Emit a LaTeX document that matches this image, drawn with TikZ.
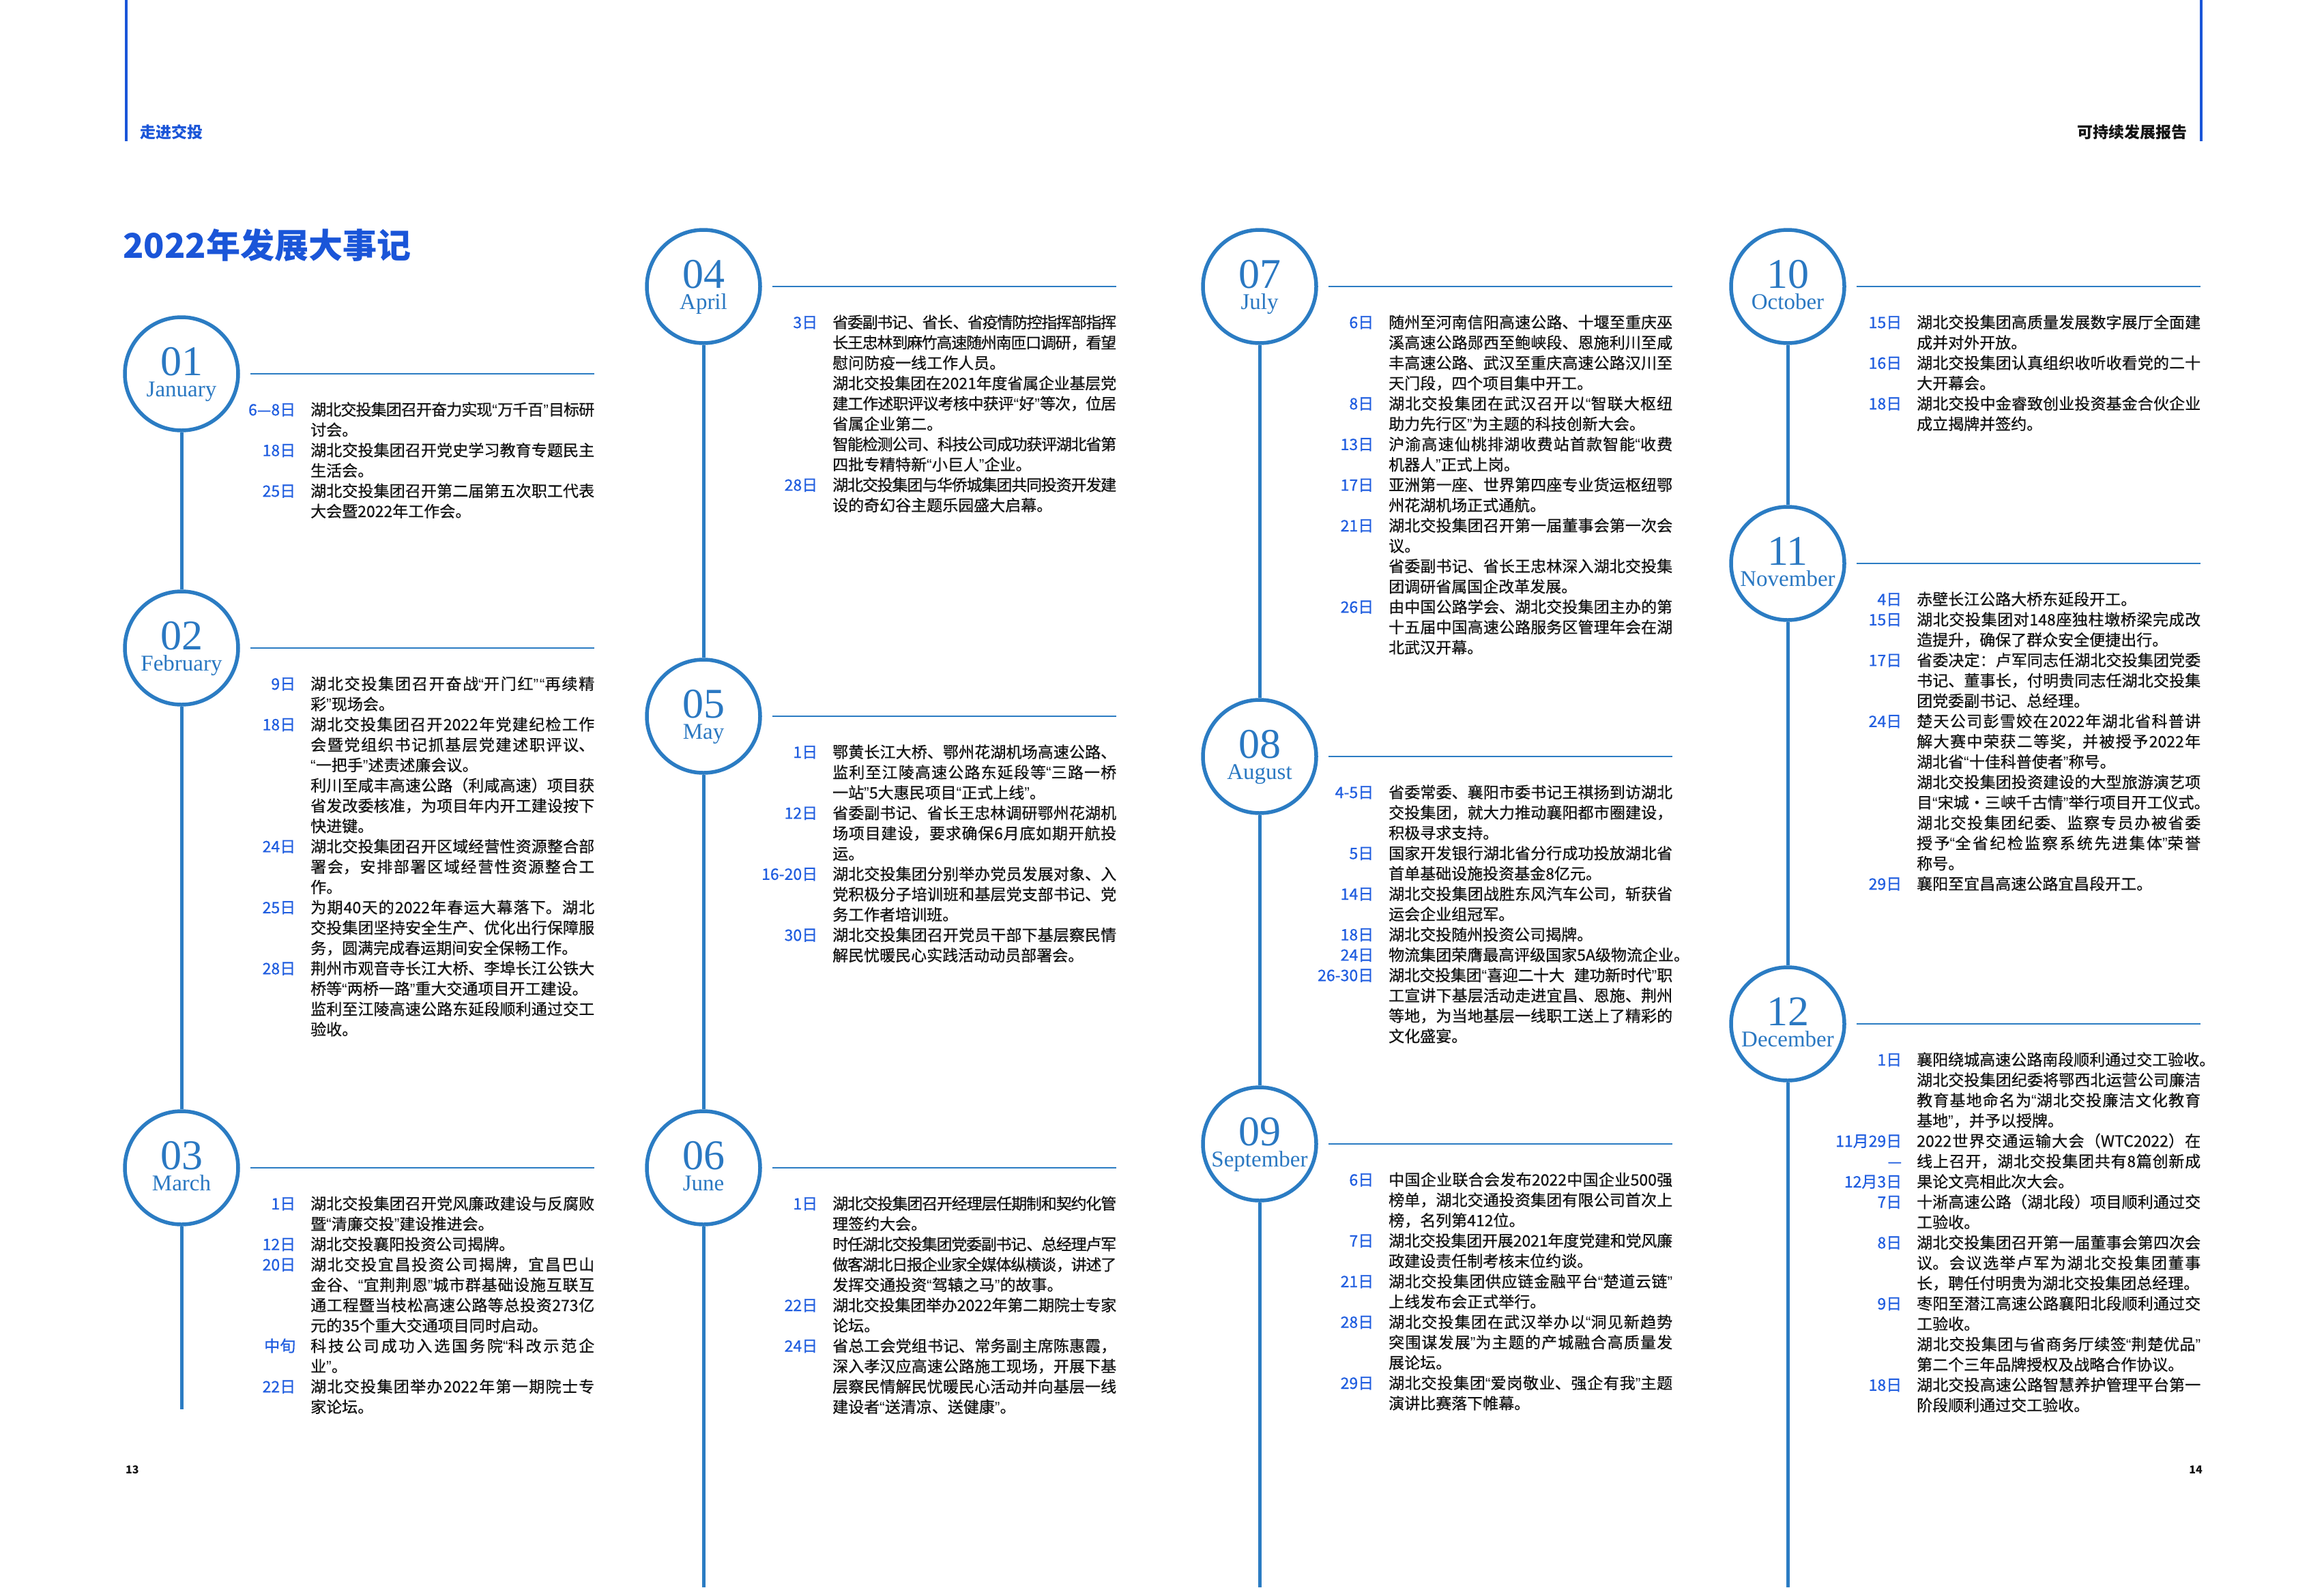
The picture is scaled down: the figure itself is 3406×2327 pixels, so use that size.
\documentclass[tikz,border=0pt]{standalone}
\usepackage{fontspec}
\setmainfont{Noto Sans CJK SC}
\newfontfamily\bodyfont{Noto Sans CJK SC}[FakeBold=0.7]
\newfontfamily\serifmonth{Liberation Serif}
\newfontfamily\qfont{Liberation Sans}
\XeTeXlinebreaklocale "zh"
\XeTeXlinebreakskip=0pt plus 4pt minus 1.6pt
\definecolor{lineblue}{HTML}{2B7CC3}
\definecolor{monthblue}{HTML}{2A78C2}
\definecolor{dateblue}{HTML}{1F5DE0}
\definecolor{titleblue}{HTML}{1A55D8}
\definecolor{textblack}{HTML}{141414}
\newlength\colw \setlength\colw{416pt}
\newcommand\J[1]{\parbox[b]{\colw}{\XeTeXlinebreakpenalty=10000\relax\parfillskip=0pt\relax #1\par}}
\newcommand\D[1]{\makebox[150pt][r]{\color{dateblue}#1}}
\newcommand\qo{{\qfont “}}
\newcommand\qc{{\qfont ”}}
\newcommand\q[1]{\qo#1\qc}
\newcommand\evt[1]{\begin{tabular}[t]{@{}l@{\hspace{22pt}}l@{}}#1\end{tabular}}
\tikzset{
 mcirc/.style={circle, draw=lineblue, line width=5.5pt, fill=white, minimum size=166pt, inner sep=0pt},
 mnum/.style={font=\serifmonth\fontsize{62}{62}\selectfont, text=monthblue, anchor=base, inner sep=0pt},
 mname/.style={font=\serifmonth\fontsize{33}{33}\selectfont, text=monthblue, anchor=base, inner sep=0pt},
 tline/.style={draw=lineblue, line width=5pt},
 hrule/.style={draw=lineblue, line width=2.2pt},
 headline/.style={draw=titleblue, line width=3.5pt},
 events/.style={anchor=base west, inner sep=0pt, font=\bodyfont\fontsize{23}{29.8}\selectfont, text=textblack},
}
\begin{document}
\begin{tikzpicture}[x=1pt,y=-1pt]
\useasboundingbox (0,0) rectangle (3406,2327);
\fill[white] (0,0) rectangle (3406,2327);

% header
\coordinate (hla) at (185,0); \coordinate (hlb) at (185,207);
\coordinate (hra) at (3226,0); \coordinate (hrb) at (3226,207);
\draw[headline] (hla) -- (hlb);
\draw[headline] (hra) -- (hrb);
\node[anchor=west, inner sep=0pt, font=\bfseries\fontsize{23}{23}\selectfont, text=titleblue] (hleft) at (205,194) {走进交投};
\node[anchor=east, inner sep=0pt, font=\bfseries\fontsize{23}{23}\selectfont, text=textblack] (hright) at (3206,194) {可持续发展报告};
\node[anchor=west, inner sep=0pt, font=\bfseries\fontsize{50}{50}\selectfont, text=titleblue] (title) at (180,359) {2022年发展大事记};
\node[anchor=west, inner sep=0pt, font=\bfseries\fontsize{16}{16}\selectfont, text=textblack] (p13) at (184,2155) {13};
\node[anchor=east, inner sep=0pt, font=\bfseries\fontsize{16}{16}\selectfont, text=textblack] (p14) at (3228,2155) {14};

% circles
\node[mcirc] (c01) at (266,548) {};
\node[mcirc] (c02) at (266,950) {};
\node[mcirc] (c03) at (266,1712) {};
\node[mcirc] (c04) at (1031,420) {};
\node[mcirc] (c05) at (1031,1050) {};
\node[mcirc] (c06) at (1031,1712) {};
\node[mcirc] (c07) at (1846,420) {};
\node[mcirc] (c08) at (1846,1109) {};
\node[mcirc] (c09) at (1846,1677) {};
\node[mcirc] (c10) at (2620,420) {};
\node[mcirc] (c11) at (2620,826) {};
\node[mcirc] (c12) at (2620,1501) {};

% vertical timelines
\coordinate (e1) at (266,2066);
\coordinate (e2) at (1031,2327);
\coordinate (e3) at (1846,2327);
\coordinate (e4) at (2620,2327);
\draw[tline] (c01) -- (c02);
\draw[tline] (c02) -- (c03);
\draw[tline] (c03) -- (e1);
\draw[tline] (c04) -- (c05);
\draw[tline] (c05) -- (c06);
\draw[tline] (c06) -- (e2);
\draw[tline] (c07) -- (c08);
\draw[tline] (c08) -- (c09);
\draw[tline] (c09) -- (e3);
\draw[tline] (c10) -- (c11);
\draw[tline] (c11) -- (c12);
\draw[tline] (c12) -- (e4);

% horizontal rules
\coordinate (r01) at (871,548);
\coordinate (r02) at (871,950);
\coordinate (r03) at (871,1712);
\coordinate (r04) at (1636,420);
\coordinate (r05) at (1636,1050);
\coordinate (r06) at (1636,1712);
\coordinate (r07) at (2451,420);
\coordinate (r08) at (2451,1109);
\coordinate (r09) at (2451,1677);
\coordinate (r10) at (3225,420);
\coordinate (r11) at (3225,826);
\coordinate (r12) at (3225,1501);
\foreach \m in {01,02,03,04,05,06,07,08,09,10,11,12}{
  \draw[hrule] ([xshift=15pt]c\m.east) -- (r\m);
}

% month labels (numeral and name)
\foreach \m/\nm/\cy in {01/January/548,02/February/950,03/March/1712}{
  \node[mnum] (n\m) at (266,\cy+2) {\m};
  \node[mname] (m\m) at (266,\cy+33) {\nm};
}
\foreach \m/\nm/\cy in {04/April/420,05/May/1050,06/June/1712}{
  \node[mnum] (n\m) at (1031,\cy+2) {\m};
  \node[mname] (m\m) at (1031,\cy+33) {\nm};
}
\foreach \m/\nm/\cy in {07/July/420,08/August/1109,09/September/1677}{
  \node[mnum] (n\m) at (1846,\cy+2) {\m};
  \node[mname] (m\m) at (1846,\cy+33) {\nm};
}
\foreach \m/\nm/\cy in {10/October/420,11/November/826,12/December/1501}{
  \node[mnum] (n\m) at (2620,\cy+2) {\m};
  \node[mname] (m\m) at (2620,\cy+33) {\nm};
}

% ---------- January
\node[events] (t01) at (283,609) {\evt{%
\D{6—8日} & \J{湖北交投集团召开奋力实现\q{万千百}目标研}\\
 & 讨会。\\
\D{18日} & \J{湖北交投集团召开党史学习教育专题民主}\\
 & 生活会。\\
\D{25日} & \J{湖北交投集团召开第二届第五次职工代表}\\
 & 大会暨2022年工作会。}};

% ---------- February
\node[events] (t02) at (283,1011) {\evt{%
\D{9日} & \J{湖北交投集团召开奋战\q{开门红}\qo 再续精}\\
 & 彩\qc 现场会。\\
\D{18日} & \J{湖北交投集团召开2022年党建纪检工作}\\
 & \J{会暨党组织书记抓基层党建述职评议、}\\
 & \q{一把手}述责述廉会议。\\
 & \J{利川至咸丰高速公路（利咸高速）项目获}\\
 & \J{省发改委核准，为项目年内开工建设按下}\\
 & 快进键。\\
\D{24日} & \J{湖北交投集团召开区域经营性资源整合部}\\
 & \J{署会，安排部署区域经营性资源整合工}\\
 & 作。\\
\D{25日} & \J{为期40天的2022年春运大幕落下。湖北}\\
 & \J{交投集团坚持安全生产、优化出行保障服}\\
 & 务，圆满完成春运期间安全保畅工作。\\
\D{28日} & \J{荆州市观音寺长江大桥、李埠长江公铁大}\\
 & 桥等\q{两桥一路}重大交通项目开工建设。\\
 & \J{监利至江陵高速公路东延段顺利通过交工}\\
 & 验收。}};

% ---------- March
\node[events] (t03) at (283,1773) {\evt{%
\D{1日} & \J{湖北交投集团召开党风廉政建设与反腐败}\\
 & 暨\q{清廉交投}建设推进会。\\
\D{12日} & 湖北交投襄阳投资公司揭牌。\\
\D{20日} & \J{湖北交投宜昌投资公司揭牌，宜昌巴山}\\
 & \J{金谷、\q{宜荆荆恩}城市群基础设施互联互}\\
 & \J{通工程暨当枝松高速公路等总投资273亿}\\
 & 元的35个重大交通项目同时启动。\\
\D{中旬} & \J{科技公司成功入选国务院\qo 科改示范企}\\
 & 业\qc 。\\
\D{22日} & \J{湖北交投集团举办2022年第一期院士专}\\
 & 家论坛。}};

% ---------- April
\node[events] (t04) at (1048,481) {\evt{%
\D{3日} & \J{省委副书记、省长、省疫情防控指挥部指挥}\\
 & \J{长王忠林到麻竹高速随州南匝口调研，看望}\\
 & 慰问防疫一线工作人员。\\
 & \J{湖北交投集团在2021年度省属企业基层党}\\
 & \J{建工作述职评议考核中获评\q{好}等次，位居}\\
 & 省属企业第二。\\
 & \J{智能检测公司、科技公司成功获评湖北省第}\\
 & 四批专精特新\q{小巨人}企业。\\
\D{28日} & \J{湖北交投集团与华侨城集团共同投资开发建}\\
 & 设的奇幻谷主题乐园盛大启幕。}};

% ---------- May
\node[events] (t05) at (1048,1111) {\evt{%
\D{1日} & \J{鄂黄长江大桥、鄂州花湖机场高速公路、}\\
 & \J{监利至江陵高速公路东延段等\qo 三路一桥}\\
 & 一站\qc 5大惠民项目\q{正式上线}。\\
\D{12日} & \J{省委副书记、省长王忠林调研鄂州花湖机}\\
 & \J{场项目建设，要求确保6月底如期开航投}\\
 & 运。\\
\D{16-20日} & \J{湖北交投集团分别举办党员发展对象、入}\\
 & \J{党积极分子培训班和基层党支部书记、党}\\
 & 务工作者培训班。\\
\D{30日} & \J{湖北交投集团召开党员干部下基层察民情}\\
 & 解民忧暖民心实践活动动员部署会。}};

% ---------- June
\node[events] (t06) at (1048,1773) {\evt{%
\D{1日} & \J{湖北交投集团召开经理层任期制和契约化管}\\
 & 理签约大会。\\
 & \J{时任湖北交投集团党委副书记、总经理卢军}\\
 & \J{做客湖北日报企业家全媒体纵横谈，讲述了}\\
 & 发挥交通投资\q{驾辕之马}的故事。\\
\D{22日} & \J{湖北交投集团举办2022年第二期院士专家}\\
 & 论坛。\\
\D{24日} & \J{省总工会党组书记、常务副主席陈惠霞，}\\
 & \J{深入孝汉应高速公路施工现场，开展下基}\\
 & \J{层察民情解民忧暖民心活动并向基层一线}\\
 & 建设者\q{送清凉、送健康}。}};

% ---------- July
\node[events] (t07) at (1863,481) {\evt{%
\D{6日} & \J{随州至河南信阳高速公路、十堰至重庆巫}\\
 & \J{溪高速公路郧西至鲍峡段、恩施利川至咸}\\
 & \J{丰高速公路、武汉至重庆高速公路汉川至}\\
 & 天门段，四个项目集中开工。\\
\D{8日} & \J{湖北交投集团在武汉召开以\qo 智联大枢纽}\\
 & 助力先行区\qc 为主题的科技创新大会。\\
\D{13日} & \J{沪渝高速仙桃排湖收费站首款智能\qo 收费}\\
 & 机器人\qc 正式上岗。\\
\D{17日} & \J{亚洲第一座、世界第四座专业货运枢纽鄂}\\
 & 州花湖机场正式通航。\\
\D{21日} & \J{湖北交投集团召开第一届董事会第一次会}\\
 & 议。\\
 & \J{省委副书记、省长王忠林深入湖北交投集}\\
 & 团调研省属国企改革发展。\\
\D{26日} & \J{由中国公路学会、湖北交投集团主办的第}\\
 & \J{十五届中国高速公路服务区管理年会在湖}\\
 & 北武汉开幕。}};

% ---------- August
\node[events] (t08) at (1863,1170) {\evt{%
\D{4-5日} & \J{省委常委、襄阳市委书记王祺扬到访湖北}\\
 & \J{交投集团，就大力推动襄阳都市圈建设，}\\
 & 积极寻求支持。\\
\D{5日} & \J{国家开发银行湖北省分行成功投放湖北省}\\
 & 首单基础设施投资基金8亿元。\\
\D{14日} & \J{湖北交投集团战胜东风汽车公司，斩获省}\\
 & 运会企业组冠军。\\
\D{18日} & 湖北交投随州投资公司揭牌。\\
\D{24日} & 物流集团荣膺最高评级国家5A级物流企业。\\
\D{26-30日} & \J{湖北交投集团\qo 喜迎二十大\nobreak\hspace{14pt}建功新时代\qc 职}\\
 & \J{工宣讲下基层活动走进宜昌、恩施、荆州}\\
 & \J{等地，为当地基层一线职工送上了精彩的}\\
 & 文化盛宴。}};

% ---------- September
\node[events] (t09) at (1863,1738) {\evt{%
\D{6日} & \J{中国企业联合会发布2022中国企业500强}\\
 & \J{榜单，湖北交通投资集团有限公司首次上}\\
 & 榜，名列第412位。\\
\D{7日} & \J{湖北交投集团开展2021年度党建和党风廉}\\
 & 政建设责任制考核末位约谈。\\
\D{21日} & \J{湖北交投集团供应链金融平台\q{楚道云链}}\\
 & 上线发布会正式举行。\\
\D{28日} & \J{湖北交投集团在武汉举办以\qo 洞见新趋势}\\
 & \J{突围谋发展\qc 为主题的产城融合高质量发}\\
 & 展论坛。\\
\D{29日} & \J{湖北交投集团\q{爱岗敬业、强企有我}主题}\\
 & 演讲比赛落下帷幕。}};

% ---------- October
\node[events] (t10) at (2637,481) {\evt{%
\D{15日} & \J{湖北交投集团高质量发展数字展厅全面建}\\
 & 成并对外开放。\\
\D{16日} & \J{湖北交投集团认真组织收听收看党的二十}\\
 & 大开幕会。\\
\D{18日} & \J{湖北交投中金睿致创业投资基金合伙企业}\\
 & 成立揭牌并签约。}};

% ---------- November
\node[events] (t11) at (2637,887) {\evt{%
\D{4日} & 赤壁长江公路大桥东延段开工。\\
\D{15日} & \J{湖北交投集团对148座独柱墩桥梁完成改}\\
 & 造提升，确保了群众安全便捷出行。\\
\D{17日} & \J{省委决定：卢军同志任湖北交投集团党委}\\
 & \J{书记、董事长，付明贵同志任湖北交投集}\\
 & 团党委副书记、总经理。\\
\D{24日} & \J{楚天公司彭雪姣在2022年湖北省科普讲}\\
 & \J{解大赛中荣获二等奖，并被授予2022年}\\
 & 湖北省\q{十佳科普使者}称号。\\
 & \J{湖北交投集团投资建设的大型旅游演艺项}\\
 & 目\q{宋城·三峡千古情}举行项目开工仪式。\\
 & \J{湖北交投集团纪委、监察专员办被省委}\\
 & \J{授予\q{全省纪检监察系统先进集体}荣誉}\\
 & 称号。\\
\D{29日} & 襄阳至宜昌高速公路宜昌段开工。}};

% ---------- December
\node[events] (t12) at (2637,1562) {\evt{%
\D{1日} & 襄阳绕城高速公路南段顺利通过交工验收。\\
 & \J{湖北交投集团纪委将鄂西北运营公司廉洁}\\
 & \J{教育基地命名为\qo 湖北交投廉洁文化教育}\\
 & 基地\qc ，并予以授牌。\\
\D{11月29日} & \J{2022世界交通运输大会（WTC2022）在}\\
\D{—} & \J{线上召开，湖北交投集团共有8篇创新成}\\
\D{12月3日} & 果论文亮相此次大会。\\
\D{7日} & \J{十淅高速公路（湖北段）项目顺利通过交}\\
 & 工验收。\\
\D{8日} & \J{湖北交投集团召开第一届董事会第四次会}\\
 & \J{议。会议选举卢军为湖北交投集团董事}\\
 & 长，聘任付明贵为湖北交投集团总经理。\\
\D{9日} & \J{枣阳至潜江高速公路襄阳北段顺利通过交}\\
 & 工验收。\\
 & \J{湖北交投集团与省商务厅续签\q{荆楚优品}}\\
 & 第二个三年品牌授权及战略合作协议。\\
\D{18日} & \J{湖北交投高速公路智慧养护管理平台第一}\\
 & 阶段顺利通过交工验收。}};

\end{tikzpicture}
\end{document}
